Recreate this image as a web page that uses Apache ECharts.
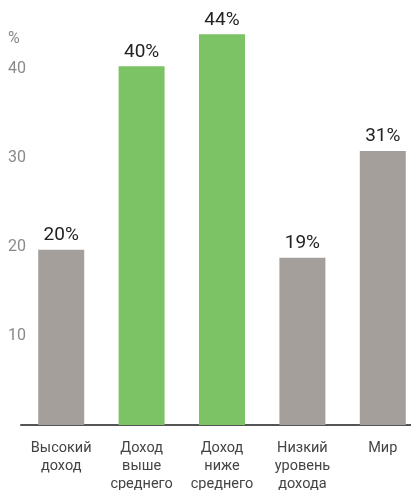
<!DOCTYPE html>
<html><head><meta charset="utf-8">
<script src="https://cdn.jsdelivr.net/npm/echarts@6/dist/echarts.min.js"></script>
<style>html,body{margin:0;padding:0;background:#fff}#c{width:411px;height:490px}</style>
</head><body><div id="c"></div>
<script>
const categories = ['Высокий\nдоход', 'Доход\nвыше\nсреднего', 'Доход\nниже\nсреднего', 'Низкий\nуровень\nдохода', 'Мир'];
const values = [19.7, 40.3, 43.9, 18.8, 30.8];
const valueLabels = ['20%', '40%', '44%', '19%', '31%'];
const groups = ['gray', 'green', 'green', 'gray', 'gray'];
const yTicks = [10, 20, 30, 40];
const colors = { gray: '#a59f9c', green: '#7cc365' };

const chart = echarts.init(document.getElementById('c'), null, { renderer: 'canvas' });
chart.setOption({
  animation: false,
  textStyle: { fontFamily: 'Roboto' },
  title: { text: '%', left: 8, top: 31, padding: 0, textStyle: { fontFamily: 'Roboto', fontSize: 16, fontWeight: 'normal', color: '#8a8a8a' } },
  grid: { left: 21, width: 402, top: 24.5, bottom: 65, containLabel: false, outerBoundsMode: 'none' },
  xAxis: {
    type: 'category',
    data: categories,
    axisLine: { show: true, lineStyle: { color: '#555', width: 2 } },
    axisTick: { show: false },
    axisLabel: { interval: 0, margin: 14, fontFamily: 'Roboto', fontSize: 14.5, lineHeight: 18, color: '#444', verticalAlign: 'top' }
  },
  yAxis: {
    type: 'value', min: 0, max: 45, interval: 10,
    axisLine: { show: false }, axisTick: { show: false }, splitLine: { show: false },
    axisLabel: {
      align: 'left', margin: 13, fontFamily: 'Roboto', fontSize: 16, color: '#8a8a8a',
      verticalAlign: 'middle', padding: [4, 0, 0, 0],
      formatter: v => yTicks.includes(v) ? String(v) : ''
    }
  },
  series: [{
    type: 'bar',
    barWidth: 46,
    data: values.map((v, i) => ({ value: v, itemStyle: { color: colors[groups[i]] } })),
    label: {
      show: true, position: 'top', distance: 5,
      fontFamily: 'Roboto', fontSize: 19, color: '#222',
      formatter: p => valueLabels[p.dataIndex]
    }
  }]
});
</script></body></html>
